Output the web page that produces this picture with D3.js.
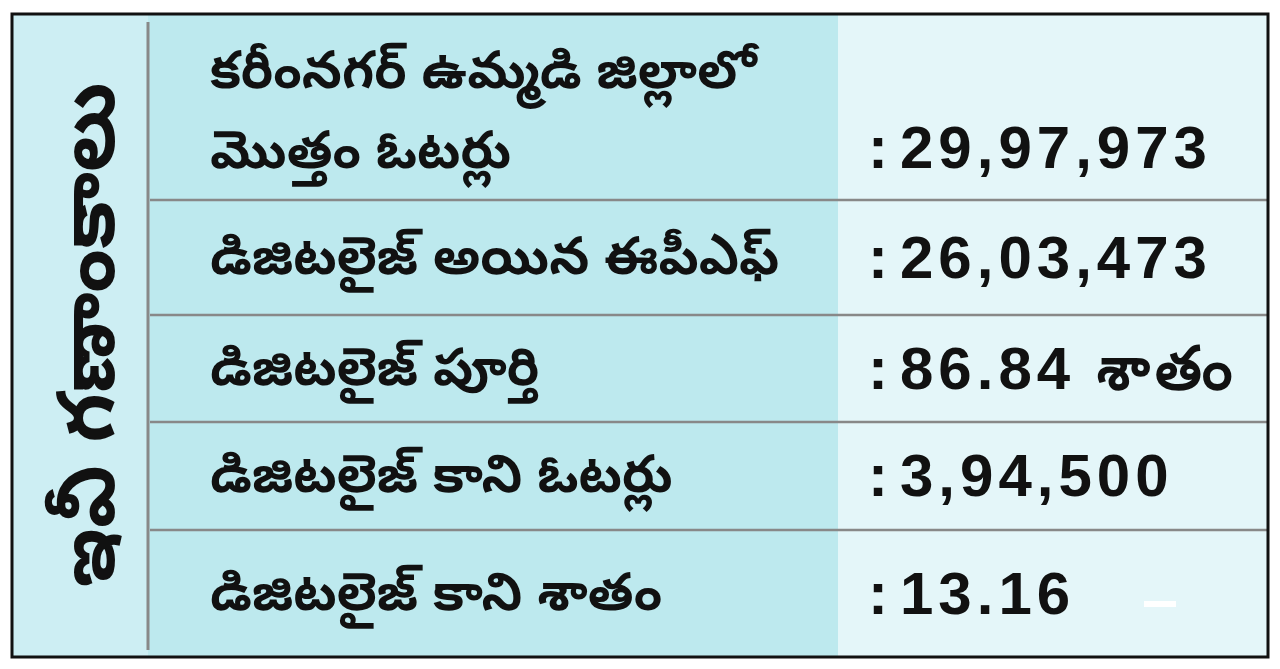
<!DOCTYPE html>
<html><head><meta charset="utf-8">
<script src="https://cdn.jsdelivr.net/npm/d3@7"></script>
<style>body{margin:0;background:#fff}</style></head>
<body><svg id="c" width="1280" height="669"></svg>
<script>
const title = "ఇవీ గణాంకాలు";
const labels = [["కరీంనగర్ ఉమ్మడి జిల్లాలో","మొత్తం ఓటర్లు"],["డిజిటలైజ్ అయిన ఈపీఎఫ్"],["డిజిటలైజ్ పూర్తి"],["డిజిటలైజ్ కాని ఓటర్లు"],["డిజిటలైజ్ కాని శాతం"]];
const values = ["29,97,973","26,03,473","86.84 శాతం","3,94,500","13.16"];
const rowEdges = [14,200,315,422,530,657];

const svg = d3.select("#c");
const font = "'Noto Sans Telugu','Noto Sans','DejaVu Sans',sans-serif";
svg.append("rect").attr("x",12).attr("y",14).attr("width",136).attr("height",643).attr("fill","#cdeef3");
svg.append("rect").attr("x",148).attr("y",14).attr("width",690).attr("height",643).attr("fill","#bde9ee");
svg.append("rect").attr("x",838).attr("y",14).attr("width",430).attr("height",643).attr("fill","#e4f6f9");
svg.append("line").attr("x1",148).attr("x2",148).attr("y1",22).attr("y2",650).attr("stroke","#888").attr("stroke-width",3);
rowEdges.slice(1,5).forEach(v=>svg.append("line").attr("x1",150).attr("x2",1268).attr("y1",v).attr("y2",v).attr("stroke","#888").attr("stroke-width",2.5));
svg.append("text").attr("transform","translate(114,335) rotate(-90)").attr("text-anchor","middle")
  .attr("font-family",font).attr("font-weight","bold").attr("font-size",80).attr("fill","#111").text(title);
labels.forEach((ls,i)=>{
  const top=rowEdges[i], bot=rowEdges[i+1];
  const n=ls.length;
  ls.forEach((l,j)=>{
    const cy = n===1 ? (top+bot)/2+16 : top+74+j*80;
    svg.append("text").attr("x",210).attr("y",cy).attr("font-family",font).attr("font-weight","bold")
      .attr("font-size",52).attr("fill","#111").text(l);
  });
  const vy = n===1 ? (top+bot)/2+20 : top+154;
  const t = svg.append("text").attr("x",868).attr("y",vy).attr("font-family","'Liberation Sans',Arial,sans-serif").attr("font-weight","bold")
    .attr("font-size",60).attr("fill","#111");
  t.append("tspan").text(":");
  t.append("tspan").attr("dx",12).attr("letter-spacing",5).text(values[i]);
});
svg.append("rect").attr("x",1144).attr("y",601).attr("width",32).attr("height",6).attr("fill","#fff");
svg.append("rect").attr("x",12).attr("y",14).attr("width",1256).attr("height",643).attr("fill","none").attr("stroke","#111").attr("stroke-width",3);
</script></body></html>
